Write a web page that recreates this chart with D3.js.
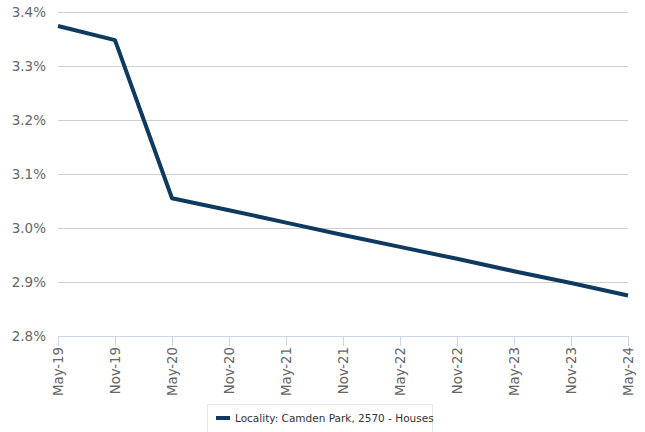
<!DOCTYPE html>
<html><head><meta charset="utf-8">
<script src="https://cdn.jsdelivr.net/npm/d3@7"></script>
<style>body{margin:0;background:#fff;font-family:"DejaVu Sans",sans-serif}</style>
</head><body><svg id="c" width="645" height="432"></svg>
<script>
const categories = ["May-19","Nov-19","May-20","Nov-20","May-21","Nov-21","May-22","Nov-22","May-23","Nov-23","May-24"];
const values = [3.374, 3.348, 3.055, 3.033, 3.010, 2.987, 2.965, 2.943, 2.920, 2.898, 2.875];
const yTicks = [2.8, 2.9, 3.0, 3.1, 3.2, 3.3, 3.4];
const seriesName = "Locality: Camden Park, 2570 - Houses";

const svg = d3.select("#c");
const L = 58, R = 628, T = 12, B = 336;
const x = d3.scalePoint().domain(categories).range([L, R]);
const y = d3.scaleLinear().domain([2.8, 3.4]).range([B, T]);

// gridlines
svg.append("g").selectAll("line").data(yTicks.filter(d => d > 2.8)).join("line")
  .attr("x1", L).attr("x2", R).attr("y1", d => y(d) + 0.5).attr("y2", d => y(d) + 0.5)
  .attr("stroke", "#d0d0d0").attr("stroke-width", 1);

// y labels
svg.append("g").selectAll("text").data(yTicks).join("text")
  .attr("x", 46).attr("y", d => y(d) + 5).attr("text-anchor", "end")
  .attr("fill", "#666").attr("font-size", 13.5)
  .text(d => d.toFixed(1) + "%");

// x axis
const xa = svg.append("g").attr("transform", `translate(0,${B})`);
xa.append("line").attr("x1", L).attr("x2", R + 1).attr("y1", 0.5).attr("y2", 0.5).attr("stroke", "#ccd6eb");
xa.selectAll("line.t").data(categories).join("line").attr("class", "t")
  .attr("x1", d => x(d) + 0.5).attr("x2", d => x(d) + 0.5).attr("y1", 0).attr("y2", 10)
  .attr("stroke", "#ccd6eb");
xa.selectAll("text").data(categories).join("text")
  .attr("transform", d => `translate(${x(d) + 4.5},${11}) rotate(-90)`)
  .attr("text-anchor", "end").attr("fill", "#666").attr("font-size", 13.3)
  .text(d => d);

// line
svg.append("path").datum(values)
  .attr("d", d3.line().x((d, i) => x(categories[i])).y(d => y(d)))
  .attr("fill", "none").attr("stroke", "#0f3a5f").attr("stroke-width", 4)
  .attr("stroke-linejoin", "round").attr("stroke-linecap", "butt");

// legend
const lg = svg.append("g");
lg.append("rect").attr("x", 207.5).attr("y", 404.5).attr("width", 225).attr("height", 34)
  .attr("fill", "#fff").attr("stroke", "#e6e6e6");
lg.append("line").attr("x1", 216).attr("x2", 230).attr("y1", 418).attr("y2", 418)
  .attr("stroke", "#0f3a5f").attr("stroke-width", 4);
lg.append("text").attr("x", 235).attr("y", 422).attr("fill", "#333").attr("font-size", 10.5)
  .text(seriesName);
</script></body></html>
